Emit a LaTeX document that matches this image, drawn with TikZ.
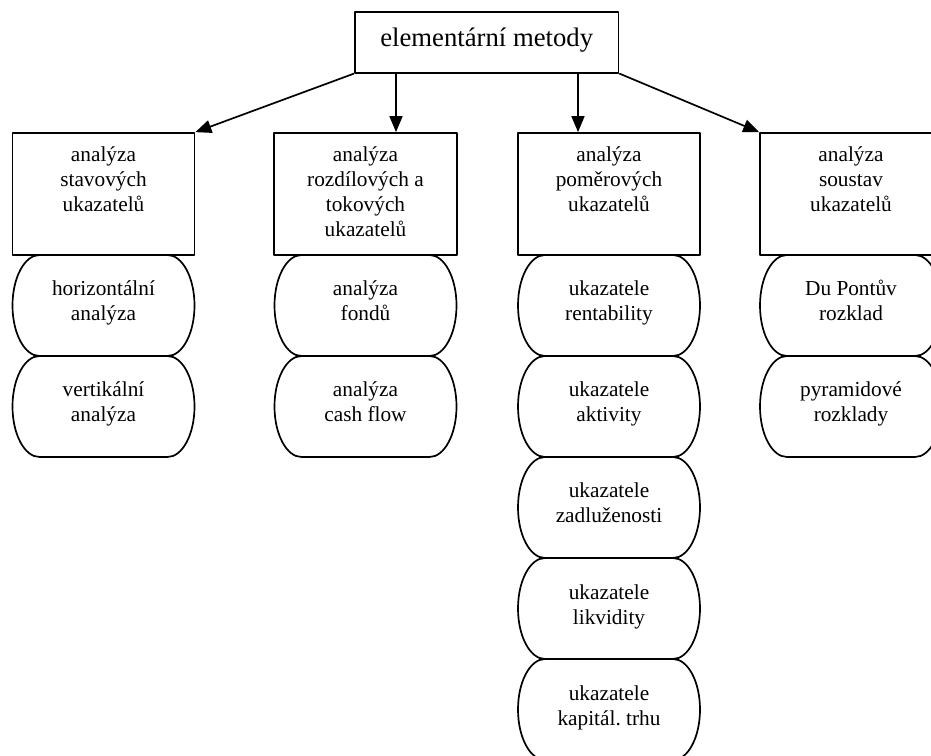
\documentclass[tikz,border=0pt]{standalone}
\usepackage{fontspec}
\setmainfont{Liberation Serif}
\frenchspacing
\usetikzlibrary{arrows.meta}
\tikzset{
  ln/.style={line width=1.7pt, line join=round},
  box/.style={ln, draw, rectangle, inner sep=0pt},
  txt/.style={anchor=base, inner sep=0pt, font=\fontsize{21.3}{25}\selectfont},
  arr/.style={ln, -{Triangle[length=16pt,width=13pt]}},
}
\newcommand\pill[4]{%
  \draw[ln] ({#2-64},#3) -- ({#2+64},#3)
    arc[start angle=90,end angle=-90,x radius=27pt,y radius=50.5pt]
    -- ({#2-64},{#3-101})
    arc[start angle=270,end angle=90,x radius=27pt,y radius=50.5pt] -- cycle;
  \node[txt] (#1) at (#2,{#3-41}) {\begin{tabular}[t]{@{}c@{}}#4\end{tabular}};
}
\begin{document}
\begin{tikzpicture}[x=1pt,y=1pt]
\fill[white] (0,0) rectangle (931,755);
\useasboundingbox (0,0) rectangle (931,755);

% top
\node[box, minimum width=263.5pt, minimum height=60.4pt] (top) at (486.7,712.5) {};
\node[anchor=base, inner sep=0pt, font=\fontsize{26.7}{32}\selectfont] (toptxt) at (486.7,708.5) {elementární metody};

% level 2 boxes
\node[box, minimum width=182pt, minimum height=122pt] (b1) at (103.5,561) {};
\node[box, minimum width=183pt, minimum height=122pt] (b2) at (365.5,561) {};
\node[box, minimum width=182pt, minimum height=122pt] (b3) at (609,561) {};
\node[box, minimum width=182pt, minimum height=122pt] (b4) at (851,561) {};

\node[txt] (t1) at (103.5,593) {\begin{tabular}[t]{@{}c@{}}analýza\\stavových\\ukazatelů\end{tabular}};
\node[txt] (t2) at (365.5,593) {\begin{tabular}[t]{@{}c@{}}analýza\\rozdílových a\\tokových\\ukazatelů\end{tabular}};
\node[txt] (t3) at (609,593) {\begin{tabular}[t]{@{}c@{}}analýza\\poměrových\\ukazatelů\end{tabular}};
\node[txt] (t4) at (851,593) {\begin{tabular}[t]{@{}c@{}}analýza\\soustav\\ukazatelů\end{tabular}};

% arrows
\coordinate (a2) at (396,0);
\coordinate (a3) at (578,0);
\draw[arr] (top.south west) -- (b1.north east);
\draw[arr] (top.south -| a2) -- (b2.north -| a2);
\draw[arr] (top.south -| a3) -- (b3.north -| a3);
\draw[arr] (top.south east) -- (b4.north west);

% level 3
\pill{p11}{103.5}{500}{horizontální\\analýza}
\pill{p12}{103.5}{399}{vertikální\\analýza}

\pill{p21}{365.5}{500}{analýza\\fondů}
\pill{p22}{365.5}{399}{analýza\\cash flow}

\pill{p31}{609}{500}{ukazatele\\rentability}
\pill{p32}{609}{399}{ukazatele\\aktivity}
\pill{p33}{609}{298}{ukazatele\\zadluženosti}
\pill{p34}{609}{197}{ukazatele\\likvidity}
\pill{p35}{609}{96}{ukazatele\\kapitál.\ trhu}

\pill{p41}{851}{500}{Du Pontův\\rozklad}
\pill{p42}{851}{399}{pyramidové\\rozklady}
\end{tikzpicture}
\end{document}
